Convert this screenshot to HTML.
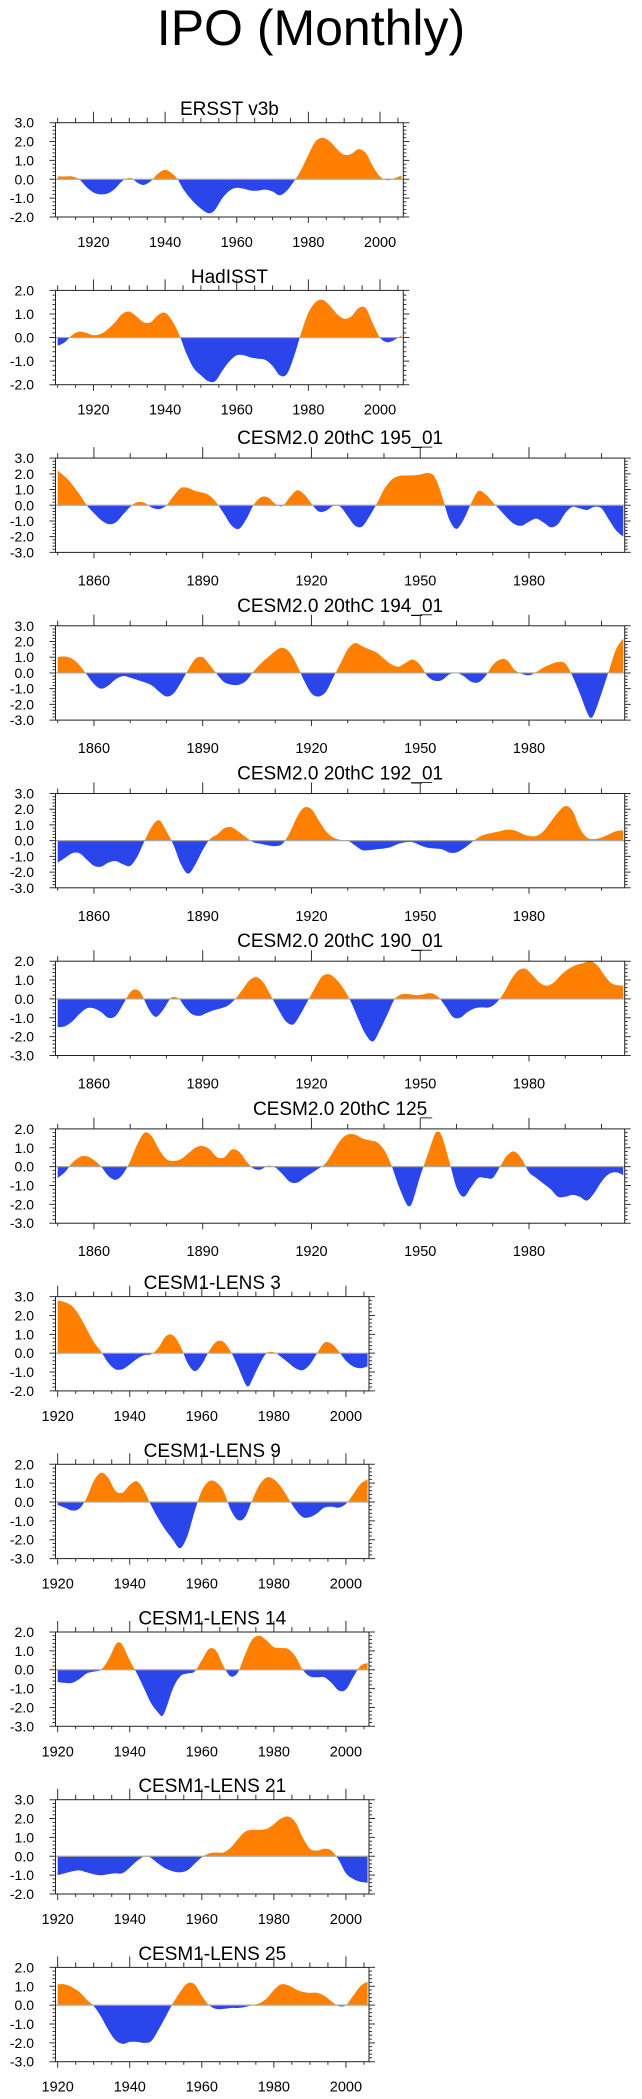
<!DOCTYPE html>
<html><head><meta charset="utf-8">
<style>
html,body{margin:0;padding:0;background:#fff;}
svg{display:block;font-family:"Liberation Sans",Arial,sans-serif;}
</style></head>
<body>
<svg id="fig" width="642" height="2099" viewBox="0 0 642 2099" xmlns="http://www.w3.org/2000/svg">
<text x="311" y="45" font-size="50" text-anchor="middle" fill="#000">IPO (Monthly)</text>
</svg>
<script>
// ---- data (years and IPO values) ----
const ersstYears=[1910,1912,1914,1916,1918,1920,1922,1924,1926,1928,1929.5,1931,1932,1934,1936,1938,1940,1942,1943.5,1945,1947,1949,1951,1952.5,1954,1956,1958,1960,1962,1964,1966,1968,1970,1972,1974,1976,1978,1980,1982,1984,1986,1988,1990,1992,1994,1996,1998,2000,2002,2004,2006];
const ersstVals=[0.15,0.15,0.15,0.0,-0.4,-0.7,-0.8,-0.75,-0.5,-0.1,0.05,0.03,-0.15,-0.3,-0.1,0.3,0.5,0.3,0,-0.5,-1.0,-1.4,-1.7,-1.8,-1.6,-1.0,-0.6,-0.45,-0.5,-0.6,-0.6,-0.55,-0.65,-0.85,-0.6,-0.1,0.5,1.3,2.0,2.2,2.0,1.6,1.3,1.35,1.6,1.4,0.7,0.15,-0.05,0.05,0.2];
const hadYears=[1910,1912,1914,1916,1918,1920,1922,1924,1926,1928,1930,1932,1934,1936,1938,1940,1942,1944,1946,1948,1950,1952,1954,1956,1958,1960,1962,1964,1966,1968,1970,1972,1974,1976,1978,1980,1982,1984,1986,1988,1990,1992,1994,1996,1998,2000,2002,2004,2006];
const hadVals=[-0.35,-0.2,0.1,0.25,0.2,0.1,0.15,0.35,0.65,1.0,1.1,0.9,0.65,0.65,0.95,1.05,0.7,0.1,-0.7,-1.3,-1.6,-1.85,-1.85,-1.4,-1.0,-0.75,-0.75,-0.85,-0.9,-0.95,-1.2,-1.6,-1.55,-0.8,0.2,1.05,1.5,1.6,1.35,1.0,0.8,0.9,1.25,1.25,0.6,0.0,-0.2,-0.1,0.1];
const c195Years=[1850,1853,1856,1858,1860,1862,1864,1866,1868,1870,1872,1874,1876,1878,1880,1882,1884,1886,1888,1890,1892,1894,1896,1898,1900,1902,1904,1906,1908,1910,1912,1914,1916,1918,1920,1922,1924,1926,1928,1930,1932,1934,1936,1938,1940,1942,1944,1946,1948,1950,1952,1954,1956,1958,1960,1962,1964,1966,1968,1970,1972,1974,1976,1978,1980,1982,1984,1986,1988,1990,1992,1994,1996,1998,2000,2002,2004,2006];
const c195Vals=[2.2,1.6,0.7,0.0,-0.5,-0.95,-1.2,-1.1,-0.6,-0.1,0.2,0.15,-0.15,-0.25,0.0,0.6,1.1,1.1,0.9,0.8,0.6,0.1,-0.6,-1.3,-1.5,-0.9,0.0,0.5,0.5,0.1,-0.05,0.5,0.95,0.7,0.1,-0.4,-0.35,-0.05,-0.1,-0.7,-1.3,-1.35,-0.7,0.1,1.0,1.6,1.85,1.9,1.9,1.95,2.05,1.8,0.6,-0.9,-1.5,-0.9,0.1,0.9,0.7,0.2,-0.3,-0.8,-1.2,-1.3,-1.05,-0.85,-1.1,-1.4,-1.2,-0.5,-0.1,-0.2,-0.3,-0.1,-0.2,-0.9,-1.6,-2.0];
const c194Years=[1850,1852,1854,1856,1858,1860,1862,1864,1866,1868,1870,1872,1874,1876,1878,1880,1882,1884,1886,1888,1890,1892,1894,1896,1898,1900,1902,1904,1906,1908,1910,1912,1914,1916,1918,1920,1922,1924,1926,1928,1930,1932,1934,1936,1938,1940,1942,1944,1946,1948,1950,1952,1954,1956,1958,1960,1962,1964,1966,1968,1970,1972,1974,1976,1978,1980,1982,1984,1986,1988,1990,1992,1994,1996,1997,1998,2000,2002,2004,2006];
const c194Vals=[1.0,1.05,0.9,0.5,-0.1,-0.7,-1.0,-0.8,-0.4,-0.2,-0.3,-0.45,-0.6,-0.8,-1.2,-1.5,-1.3,-0.6,0.2,0.9,1.0,0.5,-0.1,-0.6,-0.75,-0.75,-0.5,0.1,0.6,1.0,1.4,1.6,1.3,0.5,-0.5,-1.3,-1.5,-1.2,-0.3,0.6,1.5,1.9,1.7,1.5,1.3,0.9,0.55,0.4,0.65,0.85,0.5,-0.2,-0.5,-0.45,-0.1,0.0,-0.2,-0.55,-0.6,-0.2,0.5,0.85,0.8,0.2,-0.05,-0.15,0.05,0.35,0.55,0.7,0.6,-0.2,-1.3,-2.5,-2.85,-2.6,-1.3,0.1,1.5,2.2];
const c192Years=[1850,1852,1854,1856,1858,1860,1862,1864,1866,1868,1870,1872,1874,1876,1878,1880,1882,1884,1886,1888,1890,1892,1894,1896,1898,1900,1902,1904,1906,1908,1910,1912,1914,1916,1918,1920,1922,1924,1926,1928,1930,1932,1934,1936,1938,1940,1942,1944,1946,1948,1950,1952,1954,1956,1958,1960,1962,1964,1966,1968,1970,1972,1974,1976,1978,1980,1982,1984,1986,1988,1990,1992,1994,1996,1998,2000,2002,2004,2006];
const c192Vals=[-1.4,-1.1,-0.8,-0.8,-1.2,-1.6,-1.65,-1.4,-1.3,-1.5,-1.6,-1.0,0.0,0.9,1.3,0.6,-0.3,-1.5,-2.1,-1.5,-0.6,0.1,0.4,0.8,0.85,0.55,0.2,-0.1,-0.2,-0.3,-0.35,-0.2,0.5,1.5,2.1,2.0,1.3,0.6,0.2,0.05,0.0,-0.3,-0.6,-0.6,-0.55,-0.5,-0.4,-0.2,-0.1,-0.1,-0.3,-0.45,-0.5,-0.55,-0.75,-0.75,-0.5,-0.15,0.2,0.4,0.5,0.6,0.7,0.65,0.45,0.3,0.3,0.6,1.2,1.8,2.2,1.9,0.8,0.2,0.1,0.2,0.4,0.6,0.65];
const c190Years=[1850,1852,1854,1856,1858,1860,1862,1864,1866,1868,1870,1871.5,1873,1875,1877,1879,1881,1882,1883.5,1885,1887,1889,1891,1893,1895,1897,1899,1901,1903,1905,1907,1909,1911,1913,1915,1917,1919,1921,1923,1925,1927,1929,1931,1933,1935,1937,1939,1941,1943,1945,1947,1949,1951,1953,1955,1957,1959,1961,1963,1965,1967,1969,1971,1973,1975,1977,1979,1981,1983,1985,1987,1989,1991,1993,1995,1997,1999,2001,2003,2006];
const c190Vals=[-1.5,-1.45,-1.2,-0.8,-0.5,-0.5,-0.7,-1.0,-0.9,-0.3,0.35,0.5,0.3,-0.5,-0.95,-0.6,0.0,0.1,0.0,-0.4,-0.8,-0.9,-0.75,-0.6,-0.5,-0.35,0.0,0.5,1.0,1.15,0.8,0.1,-0.6,-1.2,-1.35,-0.8,-0.1,0.6,1.2,1.3,1.0,0.5,-0.2,-1.1,-1.9,-2.25,-1.6,-0.8,0.0,0.25,0.25,0.2,0.25,0.3,0.1,-0.4,-0.95,-1.0,-0.7,-0.5,-0.45,-0.45,-0.2,0.3,1.0,1.5,1.6,1.25,0.85,0.7,0.9,1.3,1.6,1.8,1.9,2.0,1.75,1.2,0.8,0.7];
const c125Years=[1850,1852,1854,1856,1858,1860,1862,1864,1866,1868,1870,1872,1874,1876,1878,1880,1882,1884,1886,1888,1890,1892,1894,1896,1898,1900,1902,1904,1906,1908,1910,1912,1914,1916,1918,1920,1922,1924,1926,1928,1930,1932,1934,1936,1938,1940,1942,1944,1946,1947,1948,1950,1952,1954,1955,1956,1958,1960,1962,1964,1966,1968,1970,1972,1974,1976,1978,1980,1982,1984,1986,1988,1990,1992,1994,1996,1998,2000,2002,2004,2006];
const c125Vals=[-0.6,-0.3,0.2,0.5,0.55,0.35,0.0,-0.5,-0.7,-0.4,0.3,1.2,1.8,1.6,0.9,0.4,0.3,0.4,0.7,1.0,1.1,0.9,0.5,0.5,0.9,0.8,0.3,-0.1,-0.15,0.05,-0.05,-0.4,-0.8,-0.85,-0.6,-0.35,-0.1,0.2,0.8,1.4,1.7,1.7,1.5,1.4,1.3,0.9,0.1,-1.0,-1.9,-2.1,-1.8,-0.5,0.6,1.7,1.85,1.6,0.3,-1.1,-1.6,-1.1,-0.6,-0.6,-0.6,0.0,0.6,0.8,0.4,-0.3,-0.6,-0.9,-1.2,-1.6,-1.6,-1.5,-1.6,-1.8,-1.4,-0.8,-0.4,-0.3,-0.45];
const l3Years=[1920,1922,1924,1926,1928,1930,1932,1934,1936,1938,1940,1942,1944,1946,1948,1950,1952,1954,1956,1958,1960,1962,1964,1966,1968,1970,1972,1973,1974,1976,1978,1980,1982,1984,1986,1988,1990,1992,1994,1996,1998,2000,2002,2004,2006];
const l3Vals=[2.8,2.7,2.5,2.0,1.3,0.6,0.1,-0.5,-0.85,-0.85,-0.6,-0.3,-0.1,-0.05,0.3,0.9,0.95,0.4,-0.5,-0.95,-0.6,0.1,0.6,0.6,0.1,-0.7,-1.6,-1.75,-1.4,-0.6,0.0,0.05,-0.2,-0.5,-0.8,-0.9,-0.6,0.0,0.55,0.5,0.1,-0.4,-0.7,-0.8,-0.7];
const l9Years=[1920,1922,1924,1926,1928,1930,1932,1934,1936,1938,1940,1942,1944,1946,1948,1950,1952,1954,1956,1958,1960,1962,1964,1966,1968,1970,1972,1974,1976,1978,1980,1982,1984,1986,1988,1990,1992,1994,1996,1998,2000,2002,2004,2006];
const l9Vals=[-0.15,-0.3,-0.45,-0.35,0.2,1.1,1.55,1.3,0.6,0.5,0.9,1.1,0.6,-0.2,-0.9,-1.5,-2.0,-2.45,-1.8,-0.5,0.6,1.1,1.05,0.6,-0.4,-0.95,-0.8,0.1,0.9,1.3,1.2,0.8,0.2,-0.4,-0.8,-0.8,-0.6,-0.3,-0.25,-0.3,-0.1,0.4,0.95,1.2];
const l14Years=[1920,1922,1924,1926,1928,1930,1932,1934,1936,1937,1938,1940,1942,1944,1946,1948,1949,1950,1952,1954,1956,1958,1960,1962,1964,1966,1968,1970,1972,1974,1976,1978,1980,1982,1984,1986,1988,1990,1992,1994,1996,1998,2000,2002,2004,2006];
const l14Vals=[-0.65,-0.7,-0.7,-0.5,-0.2,-0.1,0.0,0.5,1.3,1.45,1.3,0.5,-0.2,-1.0,-1.8,-2.3,-2.45,-2.1,-1.0,-0.35,-0.2,-0.1,0.5,1.1,1.0,0.2,-0.35,-0.15,0.8,1.6,1.8,1.55,1.2,1.15,1.1,0.7,0.0,-0.35,-0.4,-0.4,-0.7,-1.1,-1.05,-0.4,0.2,0.35];
const l21Years=[1920,1922,1924,1926,1928,1930,1932,1934,1936,1938,1940,1942,1944,1945,1946,1948,1950,1952,1954,1956,1958,1960,1962,1964,1966,1968,1970,1972,1974,1976,1978,1980,1982,1984,1986,1988,1990,1992,1994,1996,1998,2000,2002,2004,2006];
const l21Vals=[-1.0,-0.9,-0.8,-0.75,-0.85,-0.95,-1.0,-0.95,-0.9,-0.9,-0.6,-0.25,0.0,0.0,-0.1,-0.4,-0.65,-0.8,-0.85,-0.75,-0.4,-0.05,0.15,0.2,0.2,0.45,0.9,1.3,1.4,1.4,1.45,1.7,2.0,2.1,1.8,1.0,0.4,0.3,0.4,0.3,-0.2,-0.9,-1.2,-1.35,-1.4];
const l25Years=[1920,1922,1924,1926,1928,1930,1932,1934,1936,1938,1940,1942,1944,1946,1948,1950,1952,1954,1956,1958,1960,1962,1964,1966,1968,1970,1972,1974,1976,1978,1980,1982,1984,1986,1988,1990,1992,1994,1996,1998,2000,2002,2004,2006];
const l25Vals=[1.1,1.1,0.95,0.7,0.3,-0.05,-0.6,-1.3,-1.85,-2.05,-1.95,-1.95,-2.0,-1.9,-1.3,-0.6,0.1,0.7,1.15,1.1,0.5,0.0,-0.2,-0.2,-0.15,-0.15,-0.1,0.0,0.1,0.35,0.8,1.1,1.05,0.85,0.7,0.65,0.65,0.5,0.2,-0.05,0.0,0.5,1.0,1.25];
const panelTitles=["ERSST v3b","HadISST","CESM2.0 20thC 195_01","CESM2.0 20thC 194_01","CESM2.0 20thC 192_01","CESM2.0 20thC 190_01","CESM2.0 20thC 125","CESM1-LENS 3","CESM1-LENS 9","CESM1-LENS 14","CESM1-LENS 21","CESM1-LENS 25"];
const panelYMin=[-2,-2,-3,-3,-3,-3,-3,-2,-3,-3,-2,-3];
const panelYMax=[3,2,3,3,3,2,2,3,2,2,3,2];
const obsTickLabels=["1920","1940","1960","1980","2000"];
const cesmTickLabels=["1860","1890","1920","1950","1980"];
const lensTickLabels=["1920","1940","1960","1980","2000"];

const series=[[ersstYears,ersstVals],[hadYears,hadVals],[c195Years,c195Vals],[c194Years,c194Vals],[c192Years,c192Vals],[c190Years,c190Vals],[c125Years,c125Vals],[l3Years,l3Vals],[l9Years,l9Vals],[l14Years,l14Vals],[l21Years,l21Vals],[l25Years,l25Vals]];
const NS="http://www.w3.org/2000/svg";
const svg=document.getElementById('fig');
function mk(tag,attrs,parent){const e=document.createElementNS(NS,tag);for(const k in attrs)e.setAttribute(k,attrs[k]);(parent||svg).appendChild(e);return e;}
const kinds={
 obs:{left:55.5,right:403.3,xmin:1909.4,xmax:2006.5,labels:obsTickLabels,minor:5,lab:30,tdy:7.5,gamma:false},
 cesm:{left:55.5,right:624.7,xmin:1849.4,xmax:2006.4,labels:cesmTickLabels,minor:10,lab:33,tdy:14,gamma:true},
 lens:{left:55.5,right:369,xmin:1919.4,xmax:2006.4,labels:lensTickLabels,minor:5,lab:30,tdy:7.5,gamma:false}
};
const H=94.3;
function smoothPath(pts){
 let d="M"+pts[0][0].toFixed(2)+","+pts[0][1].toFixed(2);
 for(let i=0;i<pts.length-1;i++){
  const p0=pts[Math.max(0,i-1)],p1=pts[i],p2=pts[i+1],p3=pts[Math.min(pts.length-1,i+2)];
  const c1x=p1[0]+(p2[0]-p0[0])/6,c1y=p1[1]+(p2[1]-p0[1])/6;
  const c2x=p2[0]-(p3[0]-p1[0])/6,c2y=p2[1]-(p3[1]-p1[1])/6;
  d+=" C"+c1x.toFixed(2)+","+c1y.toFixed(2)+" "+c2x.toFixed(2)+","+c2y.toFixed(2)+" "+p2[0].toFixed(2)+","+p2[1].toFixed(2);
 }
 return d;
}
panelTitles.forEach((title,i)=>{
 const k=i<2?kinds.obs:(i<7?kinds.cesm:kinds.lens);
 const top=122.7+i*167.7,bot=top+H;
 const ymin=panelYMin[i],ymax=panelYMax[i];
 const xs=v=>k.left+(v-k.xmin)/(k.xmax-k.xmin)*(k.right-k.left);
 const ys=v=>bot-(v-ymin)/(ymax-ymin)*H;
 const g=mk('g',{});
 
 
 const t=mk('text',{x:(k.left+k.right)/2,y:top-k.tdy,'font-size':19,'text-anchor':'middle',fill:'#000'},g);
 t.textContent=title;
 
 
 const cid='c'+i;
 const defs=mk('defs',{},g);
 const cp=mk('clipPath',{id:cid+'p'},defs);mk('rect',{x:k.left,y:top,width:k.right-k.left,height:ys(0)-top},cp);
 const cn=mk('clipPath',{id:cid+'n'},defs);mk('rect',{x:k.left,y:ys(0),width:k.right-k.left,height:bot-ys(0)},cn);
 const [yr,vl]=series[i];
 const pts=yr.map((y,j)=>[xs(y),ys(vl[j])]);
 const area=smoothPath(pts)+" L"+pts[pts.length-1][0].toFixed(2)+","+ys(0)+" L"+pts[0][0].toFixed(2)+","+ys(0)+" Z";
 const pa=mk('path',{d:area,fill:'#ff8000','clip-path':'url(#'+cid+'p)'},g);
 
 
 const na=mk('path',{d:area,fill:'#2a45ea','clip-path':'url(#'+cid+'n)'},g);
 
 
 const zl=mk('line',{x1:k.left,x2:k.right,y1:ys(0),y2:ys(0),stroke:'#a8a8a8','stroke-width':1.2},g);
 
 
 const fr=mk('rect',{x:k.left,y:top,width:k.right-k.left,height:H,fill:'none',stroke:'#222','stroke-width':1},g);
 
 
 let td="";
 for(let y=Math.ceil(k.xmin/k.minor)*k.minor;y<=k.xmax;y+=k.minor){const x=xs(y);td+=`M${x},${bot}v3M${x},${top}v-5`;}
 k.labels.forEach(lb=>{const x=xs(+lb);td+=`M${x},${bot}v6M${x},${top}v-11`;
  const tx=mk('text',{x:x,y:bot+k.lab,'font-size':14.5,'text-anchor':'middle',fill:'#000'},g);tx.textContent=lb;
  
  
 });
 if(k.gamma){const x=xs(1950);td+=`M${x},${top-11}h12`;}
 for(let v=ymin;v<=ymax+1e-6;v+=0.2){const y=ys(v);const maj=Math.abs(v-Math.round(v))<1e-6;const L=maj?6:3;td+=`M${k.left},${y}h-${L}M${k.right},${y}h${L}`;}
 for(let v=ymin;v<=ymax;v++){const tx=mk('text',{x:34,y:ys(v)+5,'font-size':14,'text-anchor':'end',fill:'#000'},g);tx.textContent=v.toFixed(1);
  
  }
 const tp=mk('path',{d:td,stroke:'#333','stroke-width':1,fill:'none'},g);
 
 
});
</script>
</body></html>
